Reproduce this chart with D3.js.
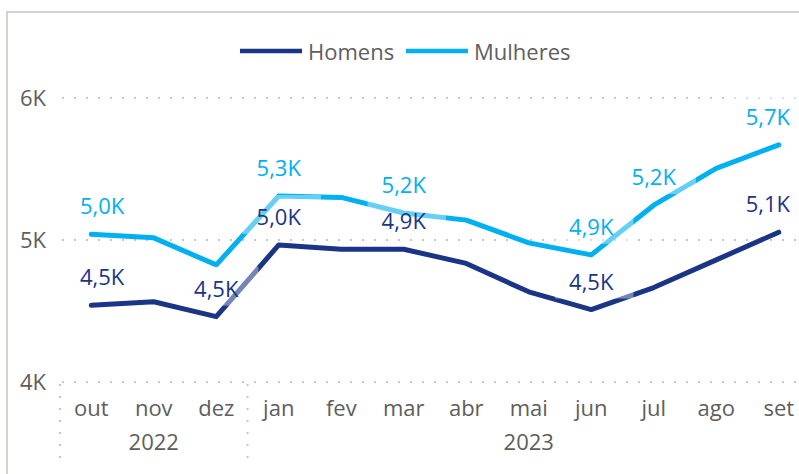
<html>
<head>
<meta charset="UTF-8">
  <title>Homens e Mulheres</title>
  <script src="https://d3js.org/d3.v7.min.js"></script>
  <style>
    body { margin: 0; background: #fff; }
    svg text { font-family: "Segoe UI", "Open Sans", sans-serif; }
  </style>
</head>

<body>
<svg width="799" height="474"></svg>
<script>

// data
var months = ["out", "nov", "dez", "jan", "fev", "mar", "abr", "mai", "jun", "jul", "ago", "set"];
var years = [
  {label: "2022", from: "out", to: "dez"},
  {label: "2023", from: "jan", to: "set"}
];
var homens = [4540, 4565, 4460, 4965, 4935, 4935, 4835, 4635, 4510, 4665, 4860, 5055];
var mulheres = [5040, 5015, 4825, 5310, 5300, 5190, 5140, 4980, 4895, 5245, 5505, 5670];
// which months get a data label
var homensLabels = ["out", "dez", "jan", "mar", "jun", "set"];
var mulheresLabels = ["out", "jan", "mar", "jun", "jul", "set"];
var yTicks = [4000, 5000, 6000];

var series = [
  {name: "Homens", values: homens, labels: homensLabels, color: "#1b3586"},
  {name: "Mulheres", values: mulheres, labels: mulheresLabels, color: "#00b0f0"}
];

var svg = d3.select("svg");
var grey = "#605e5c";

// frame
svg.append("path")
    .attr("d", "M7,474V12H799")
    .attr("fill", "none")
    .attr("stroke", "#d6d2ce")
    .attr("stroke-width", 2);

var x = d3.scaleBand()
    .domain(months)
    .range([60, 810]);

var y = d3.scaleLinear()
    .domain([4000, 6000])
    .range([382, 98]);

function cx(m) { return x(m) + x.bandwidth() / 2; }

var fmt = function(v) { return (v / 1000).toFixed(1).replace(".", ",") + "K"; };

// gridlines
svg.append("g").selectAll("line")
  .data(yTicks)
  .enter().append("line")
    .attr("x1", 62)
    .attr("x2", 799)
    .attr("y1", function(d) { return y(d); })
    .attr("y2", function(d) { return y(d); })
    .attr("stroke", "#c8c6c4")
    .attr("stroke-width", 2)
    .attr("stroke-dasharray", "2,10");

svg.append("g").selectAll("text")
  .data(yTicks)
  .enter().append("text")
    .attr("x", 46)
    .attr("y", function(d) { return y(d) + 8; })
    .attr("text-anchor", "end")
    .attr("fill", grey)
    .attr("font-size", 22)
    .text(function(d) { return (d / 1000) + "K"; });

// x axis: months, years, separators
svg.append("g").selectAll("text")
  .data(months)
  .enter().append("text")
    .attr("x", cx)
    .attr("y", 416)
    .attr("text-anchor", "middle")
    .attr("fill", grey)
    .attr("font-size", 22)
    .text(function(d) { return d; });

svg.append("g").selectAll("text")
  .data(years)
  .enter().append("text")
    .attr("x", function(d) { return (cx(d.from) + cx(d.to)) / 2; })
    .attr("y", 450)
    .attr("text-anchor", "middle")
    .attr("fill", grey)
    .attr("font-size", 22)
    .text(function(d) { return d.label; });

svg.append("g").selectAll("line")
  .data(years)
  .enter().append("line")
    .attr("x1", function(d) { return x(d.from); })
    .attr("x2", function(d) { return x(d.from); })
    .attr("y1", 384)
    .attr("y2", 464)
    .attr("stroke", "#c8c6c4")
    .attr("stroke-width", 2)
    .attr("stroke-dasharray", "2,10");

// lines
var line = d3.line()
    .x(function(d, i) { return cx(months[i]); })
    .y(function(d) { return y(d); });

svg.append("g").selectAll("path")
  .data(series)
  .enter().append("path")
    .attr("d", function(d) { return line(d.values); })
    .attr("fill", "none")
    .attr("stroke", function(d) { return d.color; })
    .attr("stroke-width", 5)
    .attr("stroke-linejoin", "round")
    .attr("stroke-linecap", "round");

// data labels, with a see-through white box behind them
var labelData = [];
series.forEach(function(s) {
  s.labels.forEach(function(m) {
    var i = months.indexOf(m);
    labelData.push({m: m, v: s.values[i], color: s.color});
  });
});

var boxes = svg.append("g");
var labels = svg.append("g");

labels.selectAll("text")
  .data(labelData)
  .enter().append("text")
    .attr("x", function(d) { return cx(d.m); })
    .attr("y", function(d) { return y(d.v) - 20; })
    .attr("text-anchor", "middle")
    .attr("fill", function(d) { return d.color; })
    .attr("font-size", 22)
    .text(function(d) { return fmt(d.v); })
    .each(function(d) {
      // keep labels inside the plot
      var w = this.getComputedTextLength();
      var px = cx(d.m);
      if (px - w / 2 < 80) px = 80 + w / 2;
      if (px + w / 2 > 790) px = 790 - w / 2;
      d3.select(this).attr("x", px);
      var base = y(d.v) - 20;
      boxes.append("rect")
          .attr("x", px - w / 2 - 14)
          .attr("y", base - 30)
          .attr("width", w + 34)
          .attr("height", 39)
          .attr("fill", "#fff")
          .attr("fill-opacity", 0.4);
    });

// legend
var legend = svg.append("g")
    .selectAll("g")
    .data(series)
    .enter().append("g")
    .attr("transform", function(d, i) { return "translate(" + [240, 406][i] + ",51)"; });

legend.append("line")
    .attr("x2", 62)
    .attr("stroke", function(d) { return d.color; })
    .attr("stroke-width", 4.5);

legend.append("text")
    .attr("x", 68)
    .attr("y", 9)
    .attr("fill", grey)
    .attr("font-size", 22)
    .text(function(d) { return d.name; });

</script>
</body>
</html>
